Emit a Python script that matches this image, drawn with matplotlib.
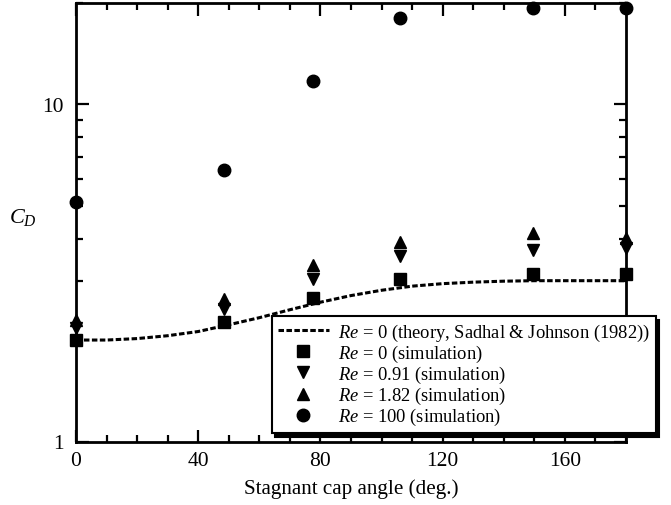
import matplotlib
matplotlib.use("Agg")
import matplotlib.pyplot as plt
from matplotlib.ticker import FixedLocator, NullFormatter, FixedFormatter

plt.rcParams['font.family'] = ['Liberation Serif', 'DejaVu Serif']
plt.rcParams['mathtext.fontset'] = 'custom'
plt.rcParams['mathtext.it'] = 'Liberation Serif:italic'
plt.rcParams['mathtext.rm'] = 'Liberation Serif'

# simulation cap angles
angles = [0, 48.5, 77.4, 106, 149.5, 180]
cd_re0 = [2.00, 2.26, 2.67, 3.04, 3.14, 3.13]
cd_re091 = [2.17, 2.48, 3.04, 3.56, 3.71, 3.75]
cd_re182 = [2.30, 2.65, 3.35, 3.92, 4.16, 4.02]
cd_re100 = [5.14, 6.39, 11.7, 18.1, 19.3, 19.3]

# theory curve
theory_angles = [0, 10, 20, 30, 40, 50, 60, 70, 80, 90, 100, 110, 120, 130, 140, 150, 160, 170, 180]
theory_cd = [2.00, 2.00, 2.02, 2.06, 2.12, 2.22, 2.33, 2.46, 2.59, 2.71, 2.81, 2.89, 2.94, 2.97, 2.99, 3.00, 3.00, 3.00, 3.00]

xticks = [0, 40, 80, 120, 160]
yticks = [1, 10]
ytick_labels = ['1', '10']

fig = plt.figure(figsize=(6.71, 5.06), dpi=100)
ax = fig.add_axes([76/671, 1-442.5/506, (626-76)/671, (442.5-4)/506])

ax.plot(theory_angles, theory_cd, color='black', lw=2.2, linestyle=(0, (1.8, 0.8)),
        label=r'$Re$ = 0 (theory, Sadhal & Johnson (1982))', zorder=3, clip_on=False)
ms = 9
ax.plot(angles, cd_re0, 's', color='black', ms=ms, ls='none', label=r'$Re$ = 0 (simulation)', zorder=4, clip_on=False)
ax.plot(angles, cd_re091, 'v', color='black', ms=ms, ls='none', label=r'$Re$ = 0.91 (simulation)', zorder=4, clip_on=False)
ax.plot(angles, cd_re182, '^', color='black', ms=ms, ls='none', label=r'$Re$ = 1.82 (simulation)', zorder=4, clip_on=False)
ax.plot(angles, cd_re100, 'o', color='black', ms=ms, ls='none', label=r'$Re$ = 100 (simulation)', zorder=4, clip_on=False)

ax.set_yscale('log')
ax.set_xlim(0, 180)
ax.set_ylim(1, 20)

ax.xaxis.set_major_locator(FixedLocator(xticks))
ax.xaxis.set_minor_locator(FixedLocator(list(range(0, 181, 10))))
ax.yaxis.set_major_locator(FixedLocator(yticks))
ax.yaxis.set_major_formatter(FixedFormatter(ytick_labels))
ax.yaxis.set_minor_locator(FixedLocator([2, 3, 4, 5, 6, 7, 8, 9, 20]))
ax.yaxis.set_minor_formatter(NullFormatter())

for s in ax.spines.values():
    s.set_linewidth(2)
ax.tick_params(which='both', direction='in', top=True, right=True, width=1.6, labelsize=15.5)
ax.tick_params(which='major', length=9)
ax.tick_params(axis='x', which='major', pad=7)
ax.tick_params(axis='y', which='major', pad=9)
ax.tick_params(which='minor', length=5)

ax.set_xlabel('Stagnant cap angle (deg.)', fontsize=15.2, labelpad=6)
ax.set_ylabel(r'$C_D$', fontsize=16, rotation=0, va='center', ha='center')
ax.yaxis.set_label_coords(-0.097, 0.512)

leg = ax.legend(loc='upper left', bbox_to_anchor=(272/671, 1-317/506), bbox_transform=fig.transFigure,
                fontsize=13.3, frameon=True, fancybox=False, shadow={'color': 'black', 'alpha': 1, 'ox': 2, 'oy': -3},
                edgecolor='black', framealpha=1, handlelength=2.8, handletextpad=0.5,
                labelspacing=0.0, borderpad=0.3, borderaxespad=0)
leg.get_frame().set_linewidth(1.5)
leg.set_zorder(5)

fig.savefig('out.png', dpi=100)
